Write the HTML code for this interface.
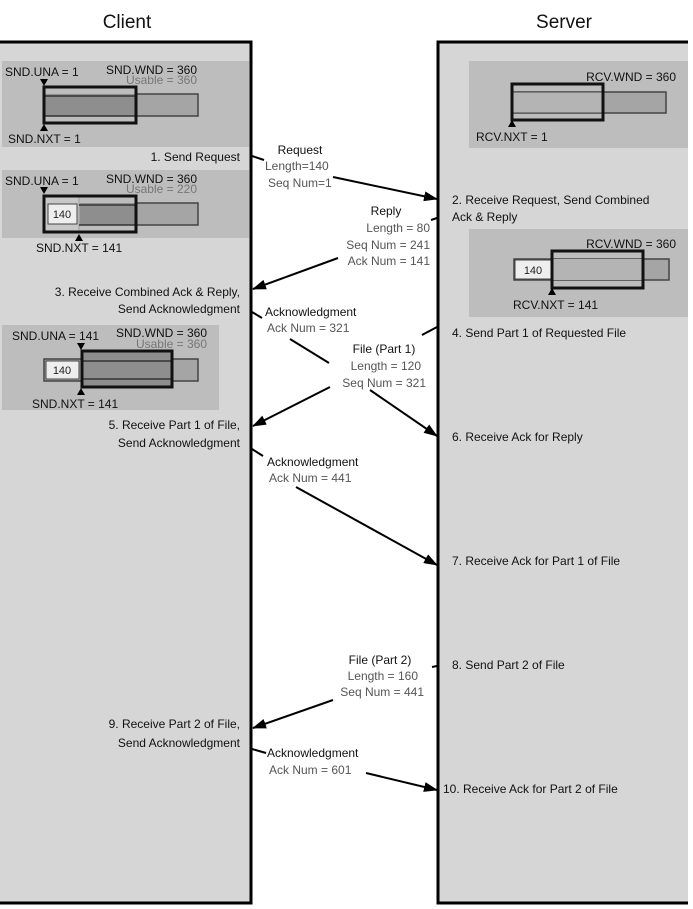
<!DOCTYPE html>
<html><head><meta charset="utf-8"><style>
html,body{margin:0;padding:0;background:#fff;}
svg{display:block;font-family:"Liberation Sans",sans-serif;}
.t{font-size:12px;fill:#111;}
.g{font-size:12px;fill:#555;}
.gl{font-size:12px;fill:#777;}
</style></head><body>
<svg width="693" height="909" viewBox="0 0 693 909">
<defs>
<marker id="ah" markerWidth="14" markerHeight="10" refX="13" refY="5" orient="auto" markerUnits="userSpaceOnUse">
<path d="M0,0 L14,5 L0,10 z" fill="#000"/></marker>
</defs>
<text x="127" y="28" font-size="19" text-anchor="middle" fill="#111">Client</text>
<text x="564" y="28" font-size="19" text-anchor="middle" fill="#111">Server</text>
<!-- panels -->
<rect x="0" y="42" width="251" height="861" fill="#d6d6d6"/>
<path d="M0,42 H251 V903 H0" fill="none" stroke="#000" stroke-width="3"/>
<rect x="438" y="42" width="250" height="861" fill="#d6d6d6"/>
<path d="M688,42 H438 V903 H688" fill="none" stroke="#000" stroke-width="3"/>

<!-- Client box 1 -->
<rect x="2" y="61" width="247" height="86" fill="#bdbdbd"/>
<rect x="136" y="94" width="62" height="22" fill="#a5a5a5" stroke="#444" stroke-width="1.5"/>
<rect x="44" y="94" width="92" height="22" fill="#8e8e8e"/>
<line x1="44" y1="96" x2="136" y2="96" stroke="#333" stroke-width="1.5"/>
<line x1="44" y1="116" x2="136" y2="116" stroke="#333" stroke-width="1.5"/>
<rect x="44" y="87" width="92" height="36" fill="none" stroke="#111" stroke-width="3"/>
<text class="t" x="5" y="76">SND.UNA = 1</text>
<text class="t" x="197" y="74" text-anchor="end">SND.WND = 360</text>
<text class="gl" x="197" y="84" text-anchor="end">Usable = 360</text>
<path d="M40,79 h8 l-4,7 z" fill="#000"/>
<path d="M40,131 h8 l-4,-7 z" fill="#000"/>
<text class="t" x="8" y="143">SND.NXT = 1</text>
<text class="t" x="240" y="161" text-anchor="end">1. Send Request</text>

<!-- Client box 2 -->
<rect x="2" y="170" width="247" height="68" fill="#bdbdbd"/>
<rect x="136" y="203" width="62" height="22" fill="#a5a5a5" stroke="#444" stroke-width="1.5"/>
<rect x="79" y="203" width="57" height="22" fill="#8e8e8e"/>
<rect x="44" y="196" width="35" height="36" fill="#c8c8c8"/>
<line x1="79" y1="196" x2="79" y2="232" stroke="#aaa" stroke-width="1.5"/>
<line x1="79" y1="205" x2="136" y2="205" stroke="#333" stroke-width="1.5"/>
<line x1="79" y1="225" x2="136" y2="225" stroke="#333" stroke-width="1.5"/>
<rect x="48" y="204" width="29" height="20" fill="#eee" stroke="#444" stroke-width="1"/>
<text x="62" y="218" font-size="11" text-anchor="middle" fill="#222">140</text>
<rect x="44" y="196" width="92" height="36" fill="none" stroke="#111" stroke-width="3"/>
<text class="t" x="5" y="185">SND.UNA = 1</text>
<text class="t" x="197" y="183" text-anchor="end">SND.WND = 360</text>
<text class="gl" x="197" y="193" text-anchor="end">Usable = 220</text>
<path d="M40,187 h8 l-4,7 z" fill="#000"/>
<path d="M75,241 h8 l-4,-7 z" fill="#000"/>
<text class="t" x="36" y="252">SND.NXT = 141</text>

<text class="t" x="240" y="296" text-anchor="end">3. Receive Combined Ack &amp; Reply,</text>
<text class="t" x="240" y="313" text-anchor="end">Send Acknowledgment</text>

<!-- Client box 3 -->
<rect x="2" y="325" width="217" height="85" fill="#bdbdbd"/>
<rect x="44" y="359" width="128" height="22" fill="#a5a5a5" stroke="#444" stroke-width="1.5"/>
<rect x="46" y="361" width="33" height="18" fill="#eee" stroke="#444" stroke-width="1"/>
<text x="62" y="374" font-size="11" text-anchor="middle" fill="#222">140</text>
<rect x="172" y="359" width="26" height="22" fill="#a5a5a5" stroke="#444" stroke-width="1.5"/>
<rect x="82" y="351" width="90" height="36" fill="#8e8e8e"/>
<line x1="82" y1="361" x2="172" y2="361" stroke="#333" stroke-width="1.5"/>
<line x1="82" y1="379" x2="172" y2="379" stroke="#333" stroke-width="1.5"/>
<rect x="82" y="351" width="90" height="36" fill="none" stroke="#111" stroke-width="3"/>
<text class="t" x="12" y="340">SND.UNA = 141</text>
<text class="t" x="207" y="337" text-anchor="end">SND.WND = 360</text>
<text class="gl" x="207" y="348" text-anchor="end">Usable = 360</text>
<path d="M77,343 h8 l-4,7 z" fill="#000"/>
<path d="M77,395 h8 l-4,-7 z" fill="#000"/>
<text class="t" x="32" y="408">SND.NXT = 141</text>

<text class="t" x="240" y="429" text-anchor="end">5. Receive Part 1 of File,</text>
<text class="t" x="240" y="447" text-anchor="end">Send Acknowledgment</text>
<text class="t" x="240" y="728" text-anchor="end">9. Receive Part 2 of File,</text>
<text class="t" x="240" y="747" text-anchor="end">Send Acknowledgment</text>

<!-- Server box A -->
<rect x="469" y="61" width="219" height="87" fill="#bdbdbd"/>
<rect x="512" y="92" width="154" height="21" fill="#a5a5a5" stroke="#444" stroke-width="1.5"/>
<rect x="512" y="92" width="91" height="21" fill="#b4b4b4" stroke="#444" stroke-width="1"/>
<rect x="512" y="84" width="91" height="36" fill="none" stroke="#111" stroke-width="3"/>
<text class="t" x="676" y="81" text-anchor="end">RCV.WND = 360</text>
<path d="M508,127 h8 l-4,-7 z" fill="#000"/>
<text class="t" x="476" y="141">RCV.NXT = 1</text>
<text class="t" x="452" y="204">2. Receive Request, Send Combined</text>
<text class="t" x="452" y="221">Ack &amp; Reply</text>

<!-- Server box B -->
<rect x="469" y="229" width="219" height="88" fill="#bdbdbd"/>
<rect x="514" y="259" width="155" height="21" fill="#a5a5a5" stroke="#444" stroke-width="1.5"/>
<rect x="515" y="260" width="36" height="19" fill="#eee" stroke="#444" stroke-width="1"/>
<text x="533" y="274" font-size="11" text-anchor="middle" fill="#222">140</text>
<rect x="552" y="259" width="91" height="21" fill="#b4b4b4"/>
<rect x="552" y="251" width="91" height="37" fill="none" stroke="#111" stroke-width="3"/>
<text class="t" x="676" y="248" text-anchor="end">RCV.WND = 360</text>
<path d="M548,295 h8 l-4,-7 z" fill="#000"/>
<text class="t" x="513" y="309">RCV.NXT = 141</text>

<text class="t" x="452" y="337">4. Send Part 1 of Requested File</text>
<text class="t" x="452" y="441">6. Receive Ack for Reply</text>
<text class="t" x="452" y="565">7. Receive Ack for Part 1 of File</text>
<text class="t" x="452" y="669">8. Send Part 2 of File</text>
<text class="t" x="443" y="793">10. Receive Ack for Part 2 of File</text>

<!-- arrows -->
<g stroke="#000" stroke-width="2" fill="none">
<path d="M252,156 L264,160"/>
<path d="M333,177 L437,199" marker-end="url(#ah)"/>
<path d="M437,218 L431,220"/>
<path d="M338,258 L253,289" marker-end="url(#ah)"/>
<path d="M252,312 L262,318"/>
<path d="M290,339 L329,363"/>
<path d="M370,390 L437,436" marker-end="url(#ah)"/>
<path d="M437,327 L422,335"/>
<path d="M330,387 L253,426" marker-end="url(#ah)"/>
<path d="M252,449 L263,456"/>
<path d="M296,487 L437,565" marker-end="url(#ah)"/>
<path d="M437,666 L432,667"/>
<path d="M333,700 L253,728" marker-end="url(#ah)"/>
<path d="M252,749 L266,753"/>
<path d="M366,773 L437,790" marker-end="url(#ah)"/>
</g>

<!-- arrow labels -->
<text class="t" x="300" y="154" text-anchor="middle">Request</text>
<text class="g" x="265" y="170">Length=140</text>
<text class="g" x="268" y="187">Seq Num=1</text>
<text class="t" x="386" y="215" text-anchor="middle">Reply</text>
<text class="g" x="430" y="232" text-anchor="end">Length = 80</text>
<text class="g" x="430" y="249" text-anchor="end">Seq Num = 241</text>
<text class="g" x="430" y="265" text-anchor="end">Ack Num = 141</text>
<text class="t" x="265" y="316">Acknowledgment</text>
<text class="g" x="267" y="332">Ack Num = 321</text>
<text class="t" x="384" y="353" text-anchor="middle">File (Part 1)</text>
<text class="g" x="421" y="370" text-anchor="end">Length = 120</text>
<text class="g" x="426" y="387" text-anchor="end">Seq Num = 321</text>
<text class="t" x="267" y="466">Acknowledgment</text>
<text class="g" x="269" y="482">Ack Num = 441</text>
<text class="t" x="380" y="664" text-anchor="middle">File (Part 2)</text>
<text class="g" x="418" y="680" text-anchor="end">Length = 160</text>
<text class="g" x="424" y="696" text-anchor="end">Seq Num = 441</text>
<text class="t" x="267" y="757">Acknowledgment</text>
<text class="g" x="269" y="774">Ack Num = 601</text>
</svg>
</body></html>
